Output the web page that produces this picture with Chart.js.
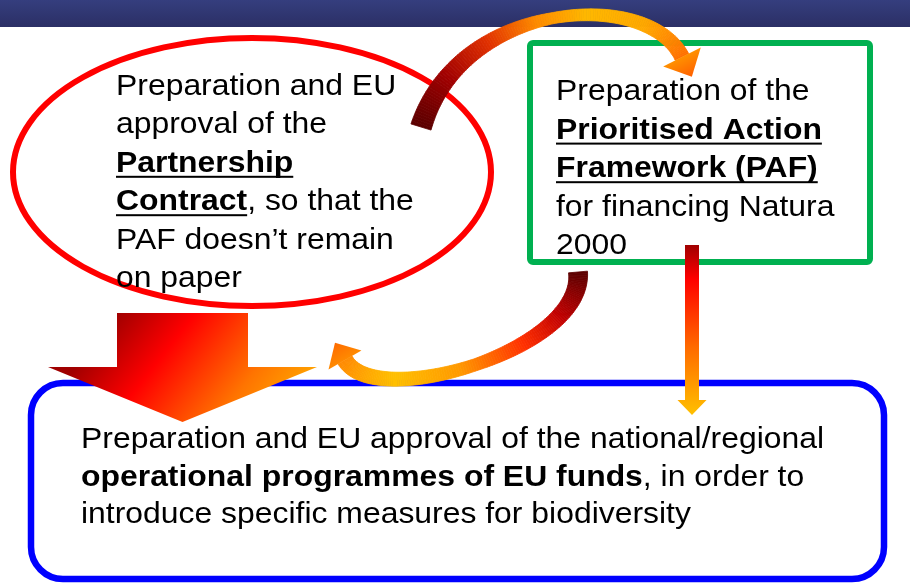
<!DOCTYPE html>
<html>
<head>
<meta charset="utf-8">
<script src="https://cdn.jsdelivr.net/npm/chart.js@4.4.0/dist/chart.umd.min.js"></script>
<style>
  html, body { margin: 0; padding: 0; background: #fff; }
  canvas { display: block; }
</style>
</head>
<body>
<canvas id="pafChart" width="910" height="588"></canvas>
<script>
// text of the three boxes: [text, bold, underline]
const contractLines = [
  [["Preparation and EU", 0, 0]],
  [["approval of the", 0, 0]],
  [["Partnership", 1, 1]],
  [["Contract", 1, 1], [", so that the", 0, 0]],
  [["PAF doesn\u2019t remain", 0, 0]],
  [["on paper", 0, 0]],
];
const pafLines = [
  [["Preparation of the", 0, 0]],
  [["Prioritised Action", 1, 1]],
  [["Framework (PAF)", 1, 1]],
  [["for financing Natura", 0, 0]],
  [["2000", 0, 0]],
];
const programmeLines = [
  [["Preparation and EU approval of the national/regional", 0, 0]],
  [["operational programmes of EU funds", 1, 0], [", in order to", 0, 0]],
  [["introduce specific measures for biodiversity", 0, 0]],
];

const FONT = '"Liberation Sans", Arial, sans-serif';
const FONT_SIZE = 29;
const STRETCH = 1.1;

const hex = (h) => [1, 3, 5].map((i) => parseInt(h.slice(i, i + 2), 16));

function interp(stops, t) {
  for (let i = 1; i < stops.length; i++) {
    if (t <= stops[i][0]) {
      const a = stops[i - 1], b = stops[i];
      const k = (t - a[0]) / (b[0] - a[0] || 1);
      if (typeof a[1] === "number") return a[1] + (b[1] - a[1]) * k;
      const ca = hex(a[1]), cb = hex(b[1]);
      return "rgb(" + ca.map((c, j) => Math.round(c + (cb[j] - c) * k)).join(",") + ")";
    }
  }
  return stops[stops.length - 1][1];
}

function bez(P, t) {
  const u = 1 - t;
  const w = [u * u * u, 3 * u * u * t, 3 * u * t * t, t * t * t];
  const d = [-3 * u * u, 3 * u * u - 6 * u * t, 6 * u * t - 3 * t * t, 3 * t * t];
  let x = 0, y = 0, dx = 0, dy = 0;
  for (let i = 0; i < 4; i++) {
    x += w[i] * P[i][0]; y += w[i] * P[i][1];
    dx += d[i] * P[i][0]; dy += d[i] * P[i][1];
  }
  return { x, y, dx, dy };
}

// curved ribbon arrow, colour changes along the curve
function ribbon(ctx, P, widths, colors, head) {
  const N = 140;
  const pts = [];
  for (let i = 0; i <= N; i++) {
    const t = i / N;
    const b = bez(P, t);
    const len = Math.hypot(b.dx, b.dy);
    const nx = -b.dy / len, ny = b.dx / len;
    const hw = interp(widths, t) / 2;
    pts.push({ l: [b.x + nx * hw, b.y + ny * hw], r: [b.x - nx * hw, b.y - ny * hw], ux: b.dx / len, uy: b.dy / len, x: b.x, y: b.y });
  }
  ctx.lineWidth = 0.8;
  for (let i = 0; i < N; i++) {
    const c = interp(colors, (i + 0.5) / N);
    ctx.fillStyle = c;
    ctx.strokeStyle = c;
    ctx.beginPath();
    ctx.moveTo(pts[i].l[0], pts[i].l[1]);
    ctx.lineTo(pts[i + 1].l[0], pts[i + 1].l[1]);
    ctx.lineTo(pts[i + 1].r[0], pts[i + 1].r[1]);
    ctx.lineTo(pts[i].r[0], pts[i].r[1]);
    ctx.closePath();
    ctx.fill();
    ctx.stroke();
  }
  const e = pts[N];
  const nx = -e.uy, ny = e.ux;
  const tip = [e.x + e.ux * head.len, e.y + e.uy * head.len];
  const g = ctx.createLinearGradient(e.x, e.y, tip[0], tip[1]);
  g.addColorStop(0, head.from);
  g.addColorStop(1, head.to);
  ctx.fillStyle = g;
  ctx.beginPath();
  ctx.moveTo(e.x + nx * head.half, e.y + ny * head.half);
  ctx.lineTo(tip[0], tip[1]);
  ctx.lineTo(e.x - nx * head.half, e.y - ny * head.half);
  ctx.closePath();
  ctx.fill();
}

// straight block arrow pointing down
function blockArrow(ctx, cx, top, neck, tip, shaftHalf, headHalf, grad) {
  ctx.fillStyle = grad;
  ctx.beginPath();
  ctx.moveTo(cx - shaftHalf, top);
  ctx.lineTo(cx + shaftHalf, top);
  ctx.lineTo(cx + shaftHalf, neck);
  ctx.lineTo(cx + headHalf, neck);
  ctx.lineTo(cx, tip);
  ctx.lineTo(cx - headHalf, neck);
  ctx.lineTo(cx - shaftHalf, neck);
  ctx.closePath();
  ctx.fill();
}

function drawLines(ctx, lines, x0, y0, step) {
  ctx.fillStyle = "#000";
  ctx.textBaseline = "alphabetic";
  lines.forEach((segs, i) => {
    ctx.save();
    ctx.translate(x0, y0 + i * step);
    ctx.scale(STRETCH, 1);
    let x = 0;
    segs.forEach(([text, bold, under]) => {
      ctx.font = (bold ? "bold " : "") + FONT_SIZE + "px " + FONT;
      ctx.fillText(text, x, 0);
      const w = ctx.measureText(text).width;
      if (under) ctx.fillRect(x, 4, w, 2);
      x += w;
    });
    ctx.restore();
  });
}

const diagramPlugin = {
  id: "diagram",
  afterDraw(chart) {
    const ctx = chart.ctx;
    const sx = chart.scales.x, sy = chart.scales.y;
    const X = (v) => sx.getPixelForValue(v);
    const Y = (v) => sy.getPixelForValue(v);
    ctx.save();

    // title band
    const band = ctx.createLinearGradient(0, Y(0), 0, Y(27));
    band.addColorStop(0, "#353e7e");
    band.addColorStop(1, "#2b2f65");
    ctx.fillStyle = band;
    ctx.fillRect(X(0), Y(0), X(910) - X(0), Y(27) - Y(0));

    // partnership contract ellipse
    ctx.strokeStyle = "#ff0000";
    ctx.lineWidth = 6;
    ctx.beginPath();
    ctx.ellipse(X(252), Y(172), X(239) - X(0), Y(134) - Y(0), 0, 0, Math.PI * 2);
    ctx.stroke();

    // PAF box
    ctx.strokeStyle = "#00b050";
    ctx.lineWidth = 6;
    ctx.beginPath();
    ctx.roundRect(X(530), Y(43), X(870) - X(530), Y(262) - Y(43), 3);
    ctx.stroke();

    // operational programmes box
    ctx.strokeStyle = "#0000ff";
    ctx.lineWidth = 6.5;
    ctx.beginPath();
    ctx.roundRect(X(31), Y(383), X(884) - X(31), Y(579) - Y(383), 32);
    ctx.stroke();

    // big down arrow
    const g1 = ctx.createLinearGradient(X(117), Y(313), X(280), Y(440));
    g1.addColorStop(0, "#a00000");
    g1.addColorStop(0.3, "#ff0000");
    g1.addColorStop(0.7, "#ff7400");
    g1.addColorStop(1, "#ffb000");
    blockArrow(ctx, X(182.5), Y(313), Y(367), Y(422), 65.5, 134.5, g1);

    // thin down arrow
    const g2 = ctx.createLinearGradient(0, Y(245), 0, Y(415));
    g2.addColorStop(0, "#a00000");
    g2.addColorStop(0.2, "#ff0000");
    g2.addColorStop(0.6, "#ff6a00");
    g2.addColorStop(1, "#ffc000");
    blockArrow(ctx, X(692), Y(245), Y(400), Y(415), 7, 14.5, g2);

    // curved arrow: contract -> PAF
    ribbon(ctx,
      [[X(421), Y(127)], [X(460), Y(0)], [X(647), Y(-13)], [X(682), Y(57)]],
      [[0, 21], [0.5, 11], [1, 15]],
      [[0, "#5a0000"], [0.15, "#a00000"], [0.3, "#e03000"], [0.45, "#ff8c00"], [0.6, "#ffb800"], [0.8, "#ffa800"], [1, "#ff7000"]],
      { len: 22, half: 21, from: "#ff9000", to: "#ff6000" });

    // curved arrow: PAF -> programmes
    ribbon(ctx,
      [[X(578), Y(272)], [X(585), Y(350)], [X(375), Y(412)], [X(345), Y(360)]],
      [[0, 19], [0.5, 12], [1, 16]],
      [[0, "#5a0000"], [0.2, "#c00000"], [0.35, "#ff3000"], [0.55, "#ff9a00"], [0.75, "#ffc000"], [1, "#ff8a00"]],
      { len: 20, half: 19, from: "#ff8a00", to: "#ff6a00" });

    drawLines(ctx, contractLines, X(116), Y(95), 38.4);
    drawLines(ctx, pafLines, X(556), Y(100), 38.6);
    drawLines(ctx, programmeLines, X(81), Y(448), 37.6);

    ctx.restore();
  },
};

new Chart(document.getElementById("pafChart"), {
  type: "scatter",
  data: { datasets: [] },
  options: {
    responsive: false,
    animation: false,
    events: [],
    layout: { padding: 0 },
    plugins: {
      legend: { display: false },
      tooltip: { enabled: false },
      title: { display: false },
    },
    scales: {
      x: { type: "linear", min: 0, max: 910, display: false },
      y: { type: "linear", min: 0, max: 588, reverse: true, display: false },
    },
  },
  plugins: [diagramPlugin],
});
</script>
</body>
</html>
